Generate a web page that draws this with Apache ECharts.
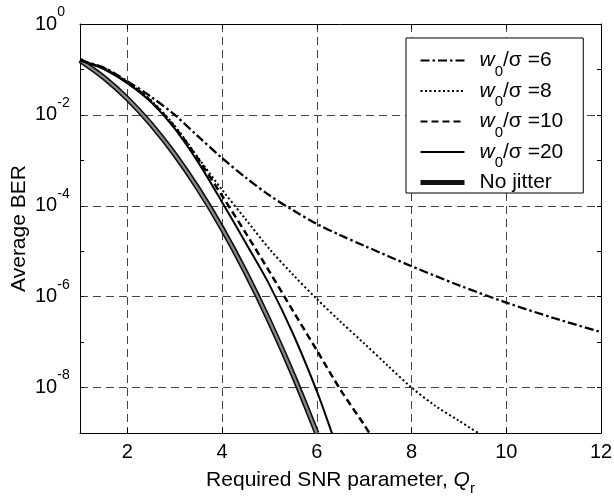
<!DOCTYPE html>
<html><head><meta charset="utf-8">
<script src="https://cdn.jsdelivr.net/npm/echarts@6/dist/echarts.min.js"></script>
<style>html,body{margin:0;padding:0;background:#fff}#c{width:614px;height:497px}</style>
</head><body><div id="c"></div>
<script>
// ---- tick values ----
const xTicks = [2, 4, 6, 8, 10, 12];
const xTopTicks = [2, 4, 6, 8, 10];
const yTicks = [1e-9, 1e-8, 1e-7, 1e-6, 1e-5, 1e-4, 1e-3, 1e-2, 1e-1, 1];
const yLabelTicks = [1e-8, 1e-6, 1e-4, 1e-2, 1];
const yGridTicks = [1e-8, 1e-6, 1e-4, 1e-2];
const legendNames = ['w0/σ =6', 'w0/σ =8', 'w0/σ =10', 'w0/σ =20', 'No jitter'];

// ---- series values ----
const qW6 = [1, 1.5, 2, 2.5, 3, 3.5, 4, 4.5, 5, 5.5, 6, 6.5, 7, 8, 9, 10, 11, 12];
const berW6 = [1.58e-1, 1.10e-1, 5.50e-2, 2.51e-2, 1.0e-2, 3.31e-3, 1.12e-3, 4.17e-4, 1.70e-4, 7.94e-5, 3.98e-5, 2.24e-5, 1.32e-5, 4.68e-6, 1.78e-6, 7.41e-7, 3.39e-7, 1.66e-7];

const qW8 = [1, 1.5, 2, 2.5, 3, 3.5, 4, 4.5, 5, 5.5, 6, 6.5, 7, 7.5, 8, 8.5, 9, 9.5];
const berW8 = [1.58e-1, 1.07e-1, 5.25e-2, 2.09e-2, 5.75e-3, 1.12e-3, 2.24e-4, 5.01e-5, 1.12e-5, 3.02e-6, 8.91e-7, 2.82e-7, 9.33e-8, 3.02e-8, 1.0e-8, 3.98e-9, 1.86e-9, 8.71e-10];

const qW10 = [1, 1.5, 2, 2.5, 3, 3.5, 4, 4.5, 5, 5.5, 6, 6.5, 7, 7.2];
const berW10 = [1.58e-1, 1.05e-1, 5.13e-2, 2.0e-2, 5.37e-3, 1.05e-3, 1.66e-4, 2.51e-5, 3.55e-6, 4.79e-7, 6.61e-8, 8.91e-9, 1.51e-9, 7.08e-10];

const qW20 = [1, 1.5, 2, 2.5, 3, 3.5, 4, 4.5, 5, 5.5, 6, 6.35];
const berW20 = [1.58e-1, 1.02e-1, 5.01e-2, 1.91e-2, 5.01e-3, 8.91e-4, 1.20e-4, 1.51e-5, 1.82e-6, 1.51e-7, 8.32e-9, 7.94e-10];

const qNJ = [1, 1.5, 2, 2.5, 3, 3.5, 4, 4.5, 5, 5.5, 6];
const berNJ = [1.59e-1, 6.68e-2, 2.28e-2, 6.21e-3, 1.35e-3, 2.33e-4, 3.17e-5, 3.40e-6, 2.87e-7, 1.90e-8, 9.87e-10];

const FONT = 'Liberation Sans, Arial, Helvetica, sans-serif';
const zip = (xs, ys) => xs.map((x, i) => [x, ys[i]]);

const chart = echarts.init(document.getElementById('c'), null, {renderer: 'canvas'});

const lineSeries = (name, xs, ys, style) => ({
  name: name, type: 'line', data: zip(xs, ys), showSymbol: false, symbol: 'none',
  smooth: 0.3, xAxisIndex: 0, yAxisIndex: 0, animation: false,
  lineStyle: style, itemStyle: {color: style.color}, emphasis: {disabled: true}
});

const option = {
  animation: false,
  backgroundColor: '#fff',
  textStyle: {fontFamily: FONT},
  grid: {left: 80, right: 13, top: 24, bottom: 64, containLabel: false, outerBoundsMode: 'none'},
  legend: {
    data: legendNames.map(n => n === 'No jitter'
      ? {name: n, lineStyle: {width: 5, color: '#111'}}
      : {name: n}),
    left: 406, top: 38,
    orient: 'vertical',
    itemWidth: 44, itemHeight: 14, itemGap: 1.5,
    padding: [12, 20, -8, 12],
    backgroundColor: '#fff', borderColor: '#000', borderWidth: 1, borderRadius: 0,
    selectedMode: false,
    itemStyle: {opacity: 0},
    formatter: function (name) {
      if (name.indexOf('w0') === 0) return '{i|w}{s|0}{n|' + name.slice(2) + '}';
      return '{f|' + name + '}{s| }';
    },
    textStyle: {
      color: '#000', fontFamily: FONT, fontSize: 21,
      rich: {
        i: {fontStyle: 'italic', fontSize: 21, lineHeight: 24, fontFamily: FONT, color: '#000', verticalAlign: 'middle', padding: [0, 0, 0, 10]},
        s: {fontSize: 15, lineHeight: 14, fontFamily: FONT, color: '#000', verticalAlign: 'middle', padding: [11, 0, -11, 0]},
        n: {fontSize: 21, lineHeight: 24, fontFamily: FONT, color: '#000', verticalAlign: 'middle'},
        f: {fontSize: 21, lineHeight: 24, fontFamily: FONT, color: '#000', verticalAlign: 'middle', padding: [0, 0, 0, 10]}
      }
    }
  },
  xAxis: [{
    type: 'value', min: 1, max: 12, position: 'bottom',
    name: '{n|Required SNR parameter, }{i|Q}{s|r}', nameLocation: 'middle', nameGap: 34, nameMoveOverlap: false,
    nameTextStyle: {
      rich: {
        n: {fontSize: 21, lineHeight: 26, fontFamily: FONT, color: '#000', verticalAlign: 'middle'},
        i: {fontSize: 21, lineHeight: 26, fontStyle: 'italic', fontFamily: FONT, color: '#000', verticalAlign: 'middle'},
        s: {fontSize: 15, lineHeight: 14, fontFamily: FONT, color: '#000', verticalAlign: 'middle', padding: [9, 0, -9, 0]}
      }
    },
    axisLine: {show: true, onZero: false, lineStyle: {color: '#000', width: 1}},
    axisTick: {show: true, inside: true, length: 5, customValues: xTicks, lineStyle: {color: '#000'}},
    axisLabel: {show: true, customValues: xTicks, fontSize: 20, color: '#000', fontFamily: FONT, margin: 9, showMaxLabel: true, showMinLabel: true},
    splitLine: {show: true, lineStyle: {color: '#444', width: 1, type: [8, 5]}}
  }, {
    type: 'value', min: 1, max: 12, position: 'top',
    axisLine: {show: true, onZero: false, lineStyle: {color: '#000', width: 1}},
    axisTick: {show: true, inside: true, length: 5, customValues: xTopTicks, lineStyle: {color: '#000'}},
    axisLabel: {show: false},
    splitLine: {show: false}
  }],
  yAxis: [{
    type: 'log', logBase: 10, min: 1e-9, max: 1, position: 'left',
    name: 'Average BER', nameLocation: 'middle', nameGap: 50, nameMoveOverlap: false,
    nameTextStyle: {fontSize: 21, color: '#000', fontFamily: FONT},
    axisLine: {show: true, onZero: false, lineStyle: {color: '#000', width: 1}},
    axisTick: {show: true, inside: true, length: 4, customValues: yTicks, lineStyle: {color: '#000'}},
    axisLabel: {
      show: true, customValues: yLabelTicks, align: 'left', margin: 45,
      showMaxLabel: true, showMinLabel: true,
      formatter: function (v) { return '{b|10}{e|' + Math.round(Math.log10(v)) + '}'; },
      rich: {
        b: {fontSize: 20, lineHeight: 38, fontFamily: FONT, color: '#000', verticalAlign: 'middle'},
        e: {fontSize: 14, lineHeight: 14, fontFamily: FONT, color: '#000', verticalAlign: 'top'}
      }
    },
    splitLine: {show: false}
  }, {
    type: 'log', logBase: 10, min: 1e-9, max: 1, position: 'right',
    axisLine: {show: true, onZero: false, lineStyle: {color: '#000', width: 1}},
    axisTick: {show: true, inside: true, length: 4, customValues: yTicks, lineStyle: {color: '#000'}},
    axisLabel: {show: false},
    splitLine: {show: false}
  }, {
    type: 'log', logBase: 10, min: 1e-9, max: 1, position: 'left',
    axisLine: {show: false},
    axisTick: {show: false, customValues: yGridTicks},
    axisLabel: {show: false},
    splitLine: {show: true, lineStyle: {color: '#444', width: 1, type: [8, 5]}}
  }],
  series: [
    lineSeries('No jitter', qNJ, berNJ, {color: '#111', width: 5.5, type: 'solid'}),
    lineSeries('nj-inner', qNJ, berNJ, {color: '#8a8a8a', width: 2.2, type: 'solid'}),
    lineSeries('w0/σ =20', qW20, berW20, {color: '#000', width: 2, type: 'solid'}),
    lineSeries('w0/σ =10', qW10, berW10, {color: '#000', width: 2.5, type: [7, 4]}),
    lineSeries('w0/σ =8', qW8, berW8, {color: '#000', width: 2, type: [2, 2.5]}),
    lineSeries('w0/σ =6', qW6, berW6, {color: '#000', width: 2.3, type: [9, 3, 2.5, 3]})
  ]
};
chart.setOption(option);
</script>
</body></html>
